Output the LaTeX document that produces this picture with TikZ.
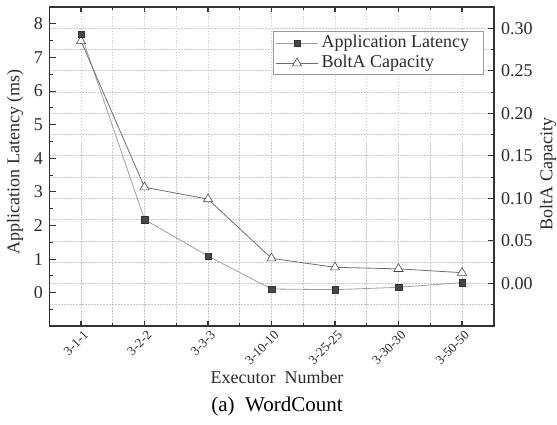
\documentclass[tikz,border=0pt]{standalone}
\usepackage{fontspec}
\setmainfont{Liberation Serif}
\usetikzlibrary{shapes.geometric}

\definecolor{axisc}{HTML}{333333}
\definecolor{gridc}{HTML}{C8C8C8}
\definecolor{latline}{HTML}{A0A0A0}
\definecolor{capline}{HTML}{6E6E6E}
\definecolor{sqfill}{HTML}{474747}
\definecolor{labelc}{HTML}{2A2A2A}

% category index -> x, data value -> y (left and right scales)
\newcommand\colx[1]{81+63.5*((#1)-1)}
\newcommand\latY[1]{292.7-33.6*(#1)}
\newcommand\capY[1]{283.3-850*(#1)}

\tikzset{
  gridline/.style={gridc, line width=0.6pt, dash pattern=on 1.5pt off 1.5pt},
  frameline/.style={axisc, line width=1.3pt},
  tickmaj/.style={axisc, line width=1.1pt},
  tickmin/.style={axisc, line width=0.9pt},
  ylab/.style={text=labelc, font=\fontsize{18}{20}\selectfont, inner sep=0pt},
  xlab/.style={text=labelc, font=\fontsize{13}{15}\selectfont, inner sep=0pt, rotate=45, anchor=east},
  titlelab/.style={text=labelc, font=\fontsize{18}{20}\selectfont, inner sep=0pt},
  latmark/.style={rectangle, fill=sqfill, draw=axisc, line width=0.4pt, minimum size=6.5pt, inner sep=0pt},
  capmark/.style={regular polygon, regular polygon sides=3, fill=white, draw=axisc!90, line width=0.6pt, minimum size=10.5pt, inner sep=0pt},
  latconn/.style={latline, line width=0.8pt},
  capconn/.style={capline, line width=0.8pt},
}

\begin{document}
\begin{tikzpicture}[x=1pt, y=-1pt]
\useasboundingbox (0,0) rectangle (557,425);

% grid
\foreach \i in {1,1.5,...,7}
  \draw[gridline] ({\colx{\i}},7) -- ({\colx{\i}},326);
\foreach \k in {-1,...,12}
  \draw[gridline] (49.3,{283.3-21.25*\k}) -- (494,{283.3-21.25*\k});

% ticks on the left (latency) and right (capacity) axes
\foreach \k in {-1,...,8} {
  \draw[tickmaj] (49.3,{\latY{\k}}) -- ++(6.5,0);
  \draw[tickmin] (49.3,{\latY{\k+0.5}}) -- ++(3.5,0);
}
\foreach \k in {-1,...,6} {
  \draw[tickmaj] (494,{283.3-42.5*\k}) -- ++(-6.5,0);
  \draw[tickmin] (494,{283.3-42.5*\k-21.25}) -- ++(-3.5,0);
}
% ticks on the bottom and top axes
\foreach \i in {1,...,7} {
  \draw[tickmaj] ({\colx{\i}},326) -- ++(0,-5.5);
  \draw[tickmaj] ({\colx{\i}},7) -- ++(0,5.5);
}
\foreach \i in {1,...,6} {
  \draw[tickmin] ({\colx{\i+0.5}},326) -- ++(0,-3.5);
  \draw[tickmin] ({\colx{\i+0.5}},7) -- ++(0,3.5);
}

% frame
\draw[frameline] (49.3,7) rectangle (494,326);

% tick labels
\foreach \k in {0,...,8}
  \node[ylab, anchor=east] at (43,{\latY{\k}}) {\k};
\foreach \v/\t in {0/0.00,0.05/0.05,0.1/0.10,0.15/0.15,0.2/0.20,0.25/0.25,0.3/0.30}
  \node[ylab, anchor=west] at (501,{\capY{\v}}) {\t};
\foreach \i/\t in {1/3-1-1,2/3-2-2,3/3-3-3,4/3-10-10,5/3-25-25,6/3-30-30,7/3-50-50}
  \node[xlab] at ({\colx{\i}+5},333) {\t};

% axis titles and caption
\node[titlelab, rotate=90] (ytitle) at (15,162) {Application Latency (ms)};
\node[titlelab, rotate=90] (y2title) at (548,174) {BoltA Capacity};
\node[titlelab] (xtitle) at (277,377) {Executor~~Number};
\node[text=black, font=\fontsize{21}{24}\selectfont, inner sep=0pt] (caption) at (277,406) {(a)~~WordCount};

% data points
\foreach \i/\v in {1/7.7,2/2.18,3/1.09,4/0.11,5/0.09,6/0.16,7/0.30}
  \coordinate (L\i) at ({\colx{\i}},{\latY{\v}});
\foreach \i/\v in {1/0.285,2/0.113,3/0.099,4/0.0294,5/0.0188,6/0.017,7/0.0125}
  \coordinate (C\i) at ({\colx{\i}},{\capY{\v}});

% series lines
\draw[latconn] (L1) -- (L2) -- (L3) -- (L4) -- (L5) -- (L6) -- (L7);
\draw[capconn] (C1) -- (C2) -- (C3) -- (C4) -- (C5) -- (C6) -- (C7);

% markers
\foreach \i in {1,...,7} {
  \node[capmark] (cm\i) at (C\i) {};
  \node[latmark] (lm\i) at (L\i) {};
}

% legend
\node[draw=gray!80, line width=0.6pt, fill=white, minimum width=209.4pt, minimum height=43.3pt, inner sep=0pt, anchor=north west] (legend) at (273.3,30.7) {};
\coordinate (la) at (276,43.3);
\coordinate (lb) at (318,43.3);
\coordinate (ca) at (276,63.3);
\coordinate (cb) at (318,63.3);
\draw[latconn] (la) -- (lb);
\draw[capconn] (ca) -- (cb);
\node[latmark] (legsq) at (297,43.3) {};
\node[capmark] (legtri) at (297,63.3) {};
\node[titlelab, anchor=west] (legt1) at (321.5,43.3) {Application Latency};
\node[titlelab, anchor=west] (legt2) at (321.5,63.3) {BoltA Capacity};
\end{tikzpicture}
\end{document}
